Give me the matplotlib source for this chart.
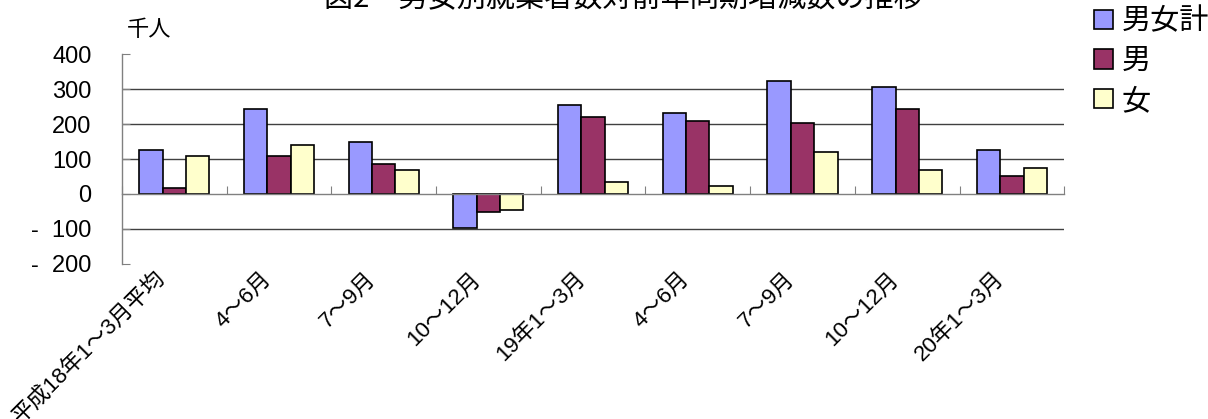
import matplotlib
matplotlib.use("Agg")
import matplotlib.pyplot as plt
import matplotlib.transforms as mtransforms
from matplotlib.patches import Patch
import numpy as np

categories = ["平成18年1～3月平均", "4～6月", "7～9月", "10～12月", "19年1～3月",
              "4～6月", "7～9月", "10～12月", "20年1～3月"]
total = [127, 243, 150, -97, 255, 231, 324, 306, 127]
male = [18, 109, 86, -51, 220, 208, 202, 243, 52]
female = [109, 139, 69, -46, 35, 23, 121, 69, 75]
series_names = ["男女計", "男", "女"]
colors = ["#9999FF", "#993366", "#FFFFCC"]
yticks = [400, 300, 200, 100, 0, -100, -200]
title = "図2　男女別就業者数対前年同期増減数の推移"
unit = "千人"

FONT = ["Liberation Sans", "Noto Sans CJK JP", "DejaVu Sans"]
plt.rcParams["font.family"] = FONT

fig = plt.figure(figsize=(12.08, 4.19), dpi=100)
ax = fig.add_axes([0.101, 0.370, 0.780, 0.501])

x = np.arange(len(categories))
w = 0.223
for k, (vals, c) in enumerate(zip([total, male, female], colors)):
    ax.bar(x + (k - 1) * w, vals, width=w, color=c, edgecolor="black",
           linewidth=1.2, zorder=3)

ax.set_xlim(-0.5, len(categories) - 0.5)
ax.set_ylim(-200, 400)

# gridlines
for v in yticks:
    if v not in (400, 0, -200):
        ax.axhline(v, color="#404040", linewidth=1.0, zorder=1)

for s in ["top", "right"]:
    ax.spines[s].set_visible(False)
ax.spines["left"].set_color("#808080")
ax.spines["left"].set_linewidth(1.0)
ax.spines["bottom"].set_position(("data", 0))
ax.spines["bottom"].set_color("#808080")
ax.spines["bottom"].set_linewidth(1.0)
ax.spines["bottom"].set_zorder(4)

ax.set_yticks(yticks)
ax.set_yticklabels([f"-  {abs(v)}" if v < 0 else f"{v}" for v in yticks],
                   fontsize=17)
ax.tick_params(axis="y", direction="in", length=6, color="#808080", pad=22)

ax.set_xticks(np.arange(-0.5, len(categories), 1.0))
ax.set_xticklabels([])
ax.tick_params(axis="x", direction="in", length=6, color="#808080")

trans = mtransforms.blended_transform_factory(ax.transData, ax.transAxes)
for i, lab in enumerate(categories):
    ax.text(i - 0.18, -0.02, lab, transform=trans, rotation=45,
            rotation_mode="anchor", ha="right", va="top", fontsize=16,
            family=FONT)

fig.text(127 / 1208, 1 - 30 / 419, unit, fontsize=16, va="center", ha="left",
         family=["Noto Sans CJK JP"])
fig.text(623 / 1208, 1 - 6 / 419, title, fontsize=21, ha="center",
         va="baseline", family=["Noto Sans CJK JP", "DejaVu Sans"])

handles = [Patch(facecolor=c, edgecolor="black", linewidth=1.2) for c in colors]
fig.legend(handles, series_names, loc="upper left",
           bbox_to_anchor=(1082 / 1208, 1.012), frameon=False,
           prop={"family": "Noto Sans CJK JP", "size": 21},
           handlelength=0.65, handleheight=0.65, handletextpad=0.3,
           labelspacing=0.33, borderaxespad=0)

fig.savefig("out.png", dpi=100)
